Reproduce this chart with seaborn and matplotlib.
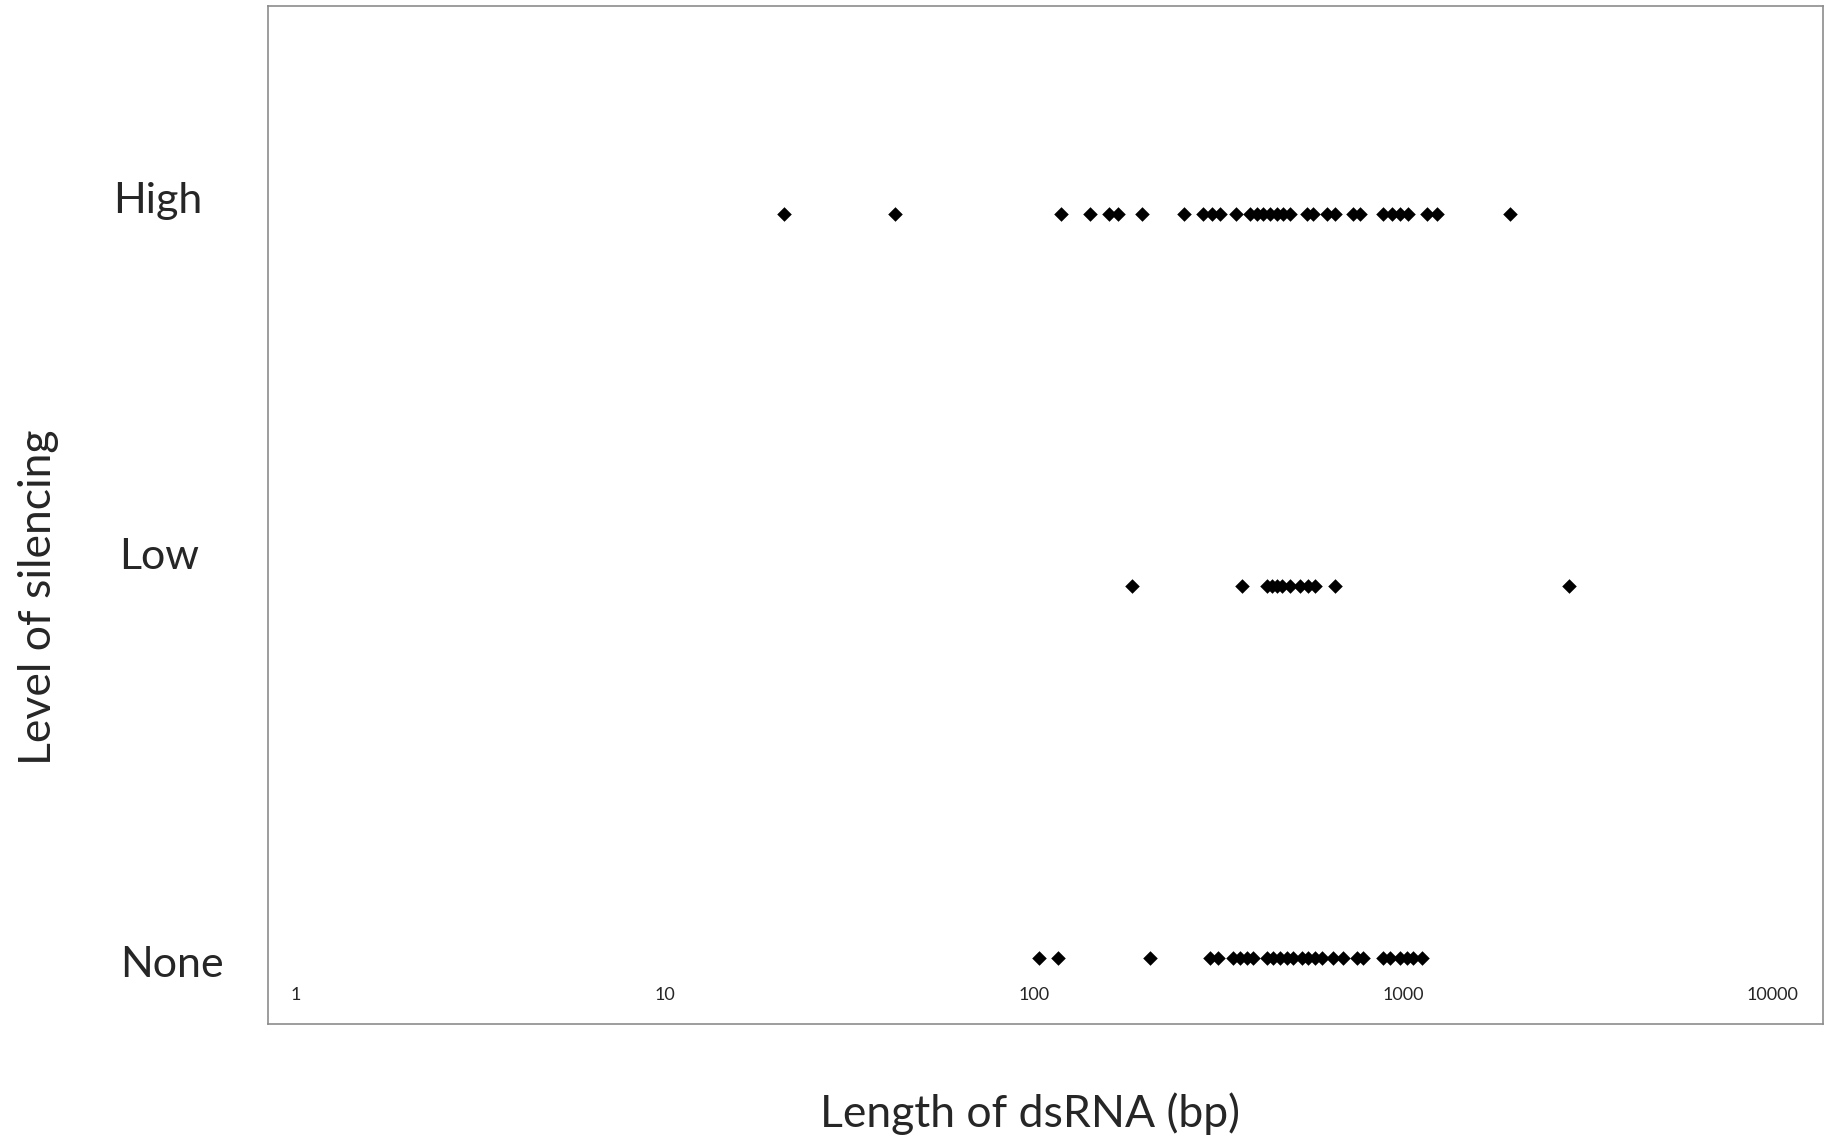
import pandas as pd
import numpy as np
import matplotlib.pyplot as plt
import seaborn as sns

# dsRNA lengths (bp), one list per silencing level
high_len = [21, 42, 118, 142, 160, 169, 196, 255, 287, 304, 319, 353, 385, 402,
            418, 436, 456, 473, 494, 550, 570, 622, 654, 732, 764, 883, 934, 982,
            1032, 1161, 1236, 1950]
low_len = [184, 366, 428, 441, 456, 470, 494, 526, 553, 578, 654, 2818]
none_len = [103, 116, 206, 300, 315, 346, 362, 378, 392, 428, 444, 464, 485, 504,
            533, 553, 578, 603, 646, 688, 750, 780, 883, 922, 982, 1025, 1065, 1125]

levels = ['None', 'Low', 'High']
level_pos = [1, 2, 3]
xticks = [1, 10, 100, 1000, 10000]

rows = []
for name, vals in zip(levels, [none_len, low_len, high_len]):
    for v in vals:
        rows.append({'length': v, 'level': name})
df = pd.DataFrame(rows)
df['ypos'] = df['level'].map(dict(zip(levels, level_pos)))

sns.set_style('white')
plt.rcParams['font.family'] = ['Lato', 'DejaVu Sans']

W, H = 1836, 1139
fig = plt.figure(figsize=(W / 100, H / 100), dpi=100)
ax = fig.add_axes([268 / W, (H - 1024) / H, (1823 - 268) / W, (1024 - 6) / H])

sns.scatterplot(data=df, x='length', y='ypos', marker='D', s=55, color='black',
                linewidth=0, ax=ax)

ax.set_xscale('log')
ax.set_xlim(0.839, 13750)
ax.set_ylim(0.823, 3.559)
ax.set_xticks(xticks)
ax.set_xticklabels([str(t) for t in xticks])
ax.minorticks_off()
ax.tick_params(axis='x', length=0, pad=-27, labelsize=13)
ax.set_yticks([])
ax.set_xlabel('')
ax.set_ylabel('')
for sp in ax.spines.values():
    sp.set_color('#8c8c8c')
    sp.set_linewidth(1.2)

# category names sit outside the plot box, as in the original
label_xy = {'High': (158, 213), 'Low': (159, 569), 'None': (172, 977)}
for name in levels:
    x, y = label_xy[name]
    fig.text(x / W, 1 - y / H, name, ha='center', va='baseline', fontsize=31)

fig.text(39 / W, 1 - 597 / H, 'Level of silencing', rotation=90,
         ha='center', va='center', fontsize=32)
fig.text(1030 / W, 1 - 1127 / H, 'Length of dsRNA (bp)', ha='center',
         va='baseline', fontsize=32)

fig.savefig('out.png', dpi=100)
